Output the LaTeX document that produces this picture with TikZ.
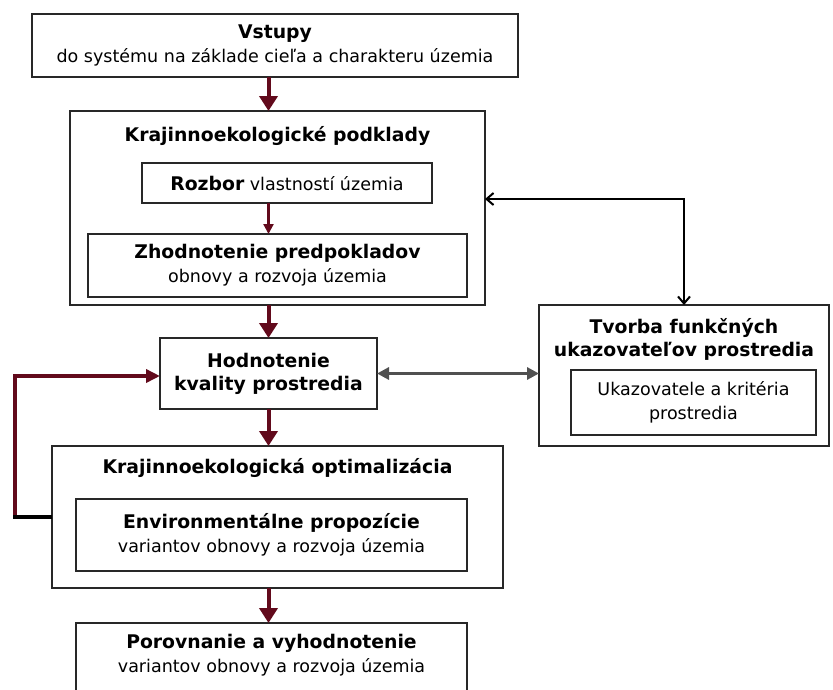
\documentclass[tikz,border=0pt]{standalone}
\usepackage{fontspec}
\setmainfont{DejaVu Sans}
\usetikzlibrary{arrows.meta}
\definecolor{arrred}{RGB}{98,10,28}
\definecolor{arrgray}{RGB}{80,80,80}
\definecolor{boxline}{RGB}{40,40,40}
\newcommand{\bt}[1]{{\bfseries\fontsize{18.8}{24}\selectfont #1}}
\begin{document}
\begin{tikzpicture}[x=1pt,y=-1pt,
  box/.style={draw=boxline, line width=1.6pt, inner sep=0pt, outer sep=0pt},
  txt/.style={font=\fontsize{17.5}{24}\selectfont, align=center, inner sep=0pt},
  bold/.style={font=\fontsize{18.8}{25}\selectfont\bfseries, align=center, inner sep=0pt},
  mainarrow/.style={draw=arrred, line width=4pt, -{Triangle[length=15pt,width=18pt]}},
  thinarrow/.style={draw=arrred, line width=2.2pt, -{Triangle[length=10pt,width=10pt]}},
  grayarrow/.style={draw=arrgray, line width=3pt, {Triangle[length=12pt,width=12pt]}-{Triangle[length=12pt,width=12pt]}},
  blackarrow/.style={draw=black, line width=2pt, {Straight Barb[length=7pt,width=12pt]}-{Straight Barb[length=7pt,width=12pt]}},
  fbline/.style={draw=arrred, line width=4pt}
]
\useasboundingbox (0,0) rectangle (833,689);
\fill[white] (0,0) rectangle (833,689);

% Vstupy
\node[box, txt, minimum width=486pt, minimum height=63pt] (vstupy) at (275,45.5)
  {\bt{Vstupy}\\do systému na základe cieľa a charakteru územia};

% Krajinnoekologicke podklady
\node[box, minimum width=415pt, minimum height=194pt] (podklady) at (277.5,208) {};
\node[bold] (podkladytitle) at (277.5,136) {Krajinnoekologické podklady};
\node[box, txt, minimum width=290pt, minimum height=40pt] (rozbor) at (287,183)
  {\bt{Rozbor} vlastností územia};
\node[box, txt, minimum width=379pt, minimum height=63pt] (zhod) at (277.5,265.5)
  {\bt{Zhodnotenie predpokladov}\\obnovy a rozvoja územia};

% Hodnotenie
\node[box, bold, minimum width=217pt, minimum height=71pt] (hod) at (268.5,373.5)
  {Hodnotenie\\[-2pt]kvality prostredia};

% Tvorba
\node[box, minimum width=290pt, minimum height=141pt] (tvorba) at (684,375.5) {};
\node[bold] (tvorbatitle) at (684,339) {Tvorba funkčných\\[-2pt]ukazovateľov prostredia};
\node[box, txt, minimum width=245pt, minimum height=65pt] (ukaz) at (693.5,402.5)
  {Ukazovatele a kritéria\\prostredia};

% Optimalizacia
\node[box, minimum width=451pt, minimum height=142pt] (opt) at (277.5,517) {};
\node[bold] (opttitle) at (277.5,468) {Krajinnoekologická optimalizácia};
\node[box, txt, minimum width=391pt, minimum height=72pt] (env) at (271.5,535)
  {\bt{Environmentálne propozície}\\variantov obnovy a rozvoja územia};

% Porovnanie
\node[box, minimum width=391pt, minimum height=72pt] (por) at (271.5,659) {};
\node[txt] (portxt) at (271.5,655.5)
  {\bt{Porovnanie a vyhodnotenie}\\variantov obnovy a rozvoja územia};

% main arrows
\draw[mainarrow] (vstupy.south -| hod) -- (podklady.north -| hod);
\draw[thinarrow] (rozbor.south -| hod) -- (zhod.north -| hod);
\draw[mainarrow] (podklady.south -| hod) -- (hod.north);
\draw[mainarrow] (hod.south) -- (opt.north -| hod);
\draw[mainarrow] (opt.south -| hod) -- (por.north -| hod);

% gray double arrow
\draw[grayarrow] (hod.east) -- (tvorba.west |- hod.east);

% black double arrow
\coordinate (bend) at (684,199);
\draw[blackarrow] (podklady.east |- bend) -| (tvorba.north);

% feedback loop
\coordinate (fb1) at (15,517);
\coordinate (fb2) at (15,376);
\draw[fbline, line join=miter, -{Triangle[length=14pt,width=13pt]}] (fb1) -- (fb2) -- (fb2 -| hod.west);
\draw[draw=black, line width=4pt] (opt.west |- fb1) -- ([xshift=-2pt]fb1);
\end{tikzpicture}
\end{document}
